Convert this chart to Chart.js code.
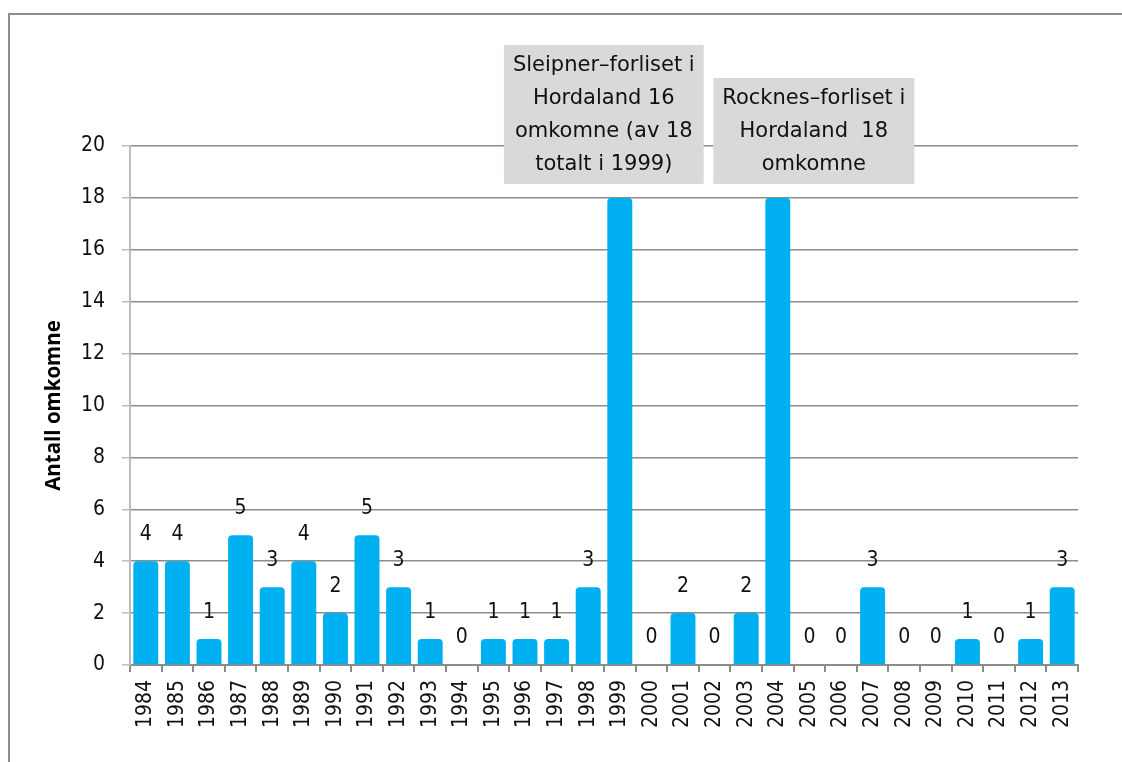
<!DOCTYPE html>
<html lang="no">
<head>
    <meta charset="UTF-8">
    <title>Antall omkomne 1984-2013</title>
    <script src="https://cdn.jsdelivr.net/npm/chart.js"></script>
    <style>
        body { margin: 0; background: #fff; overflow: hidden; }
        .frame { position: absolute; left: 8px; top: 13px; width: 1300px; height: 900px; border: 2px solid #8c8c8c; }
        .wrap { position: absolute; left: 0; top: 0; width: 1122px; height: 762px; }
    </style>
</head>
<body>
    <div class="frame"></div>
    <div class="wrap"><canvas id="chart"></canvas></div>

    <script>
        const years = ['1984', '1985', '1986', '1987', '1988', '1989', '1990', '1991', '1992', '1993',
                       '1994', '1995', '1996', '1997', '1998', '1999', '2000', '2001', '2002', '2003',
                       '2004', '2005', '2006', '2007', '2008', '2009', '2010', '2011', '2012', '2013'];
        const deaths = [4, 4, 1, 5, 3, 4, 2, 5, 3, 1,
                        0, 1, 1, 1, 3, 18, 0, 2, 0, 2,
                        18, 0, 0, 3, 0, 0, 1, 0, 1, 3];
        const yTicks = [0, 2, 4, 6, 8, 10, 12, 14, 16, 18, 20];
        const yTitle = 'Antall omkomne';

        // text boxes shown instead of a number for the two big accidents
        const notes = {
            '1999': ['Sleipner\u2013forliset i', 'Hordaland 16', 'omkomne (av 18', 'totalt i 1999)'],
            '2004': ['Rocknes\u2013forliset i', 'Hordaland  18', 'omkomne']
        };

        const FONT = "'DejaVu Sans Condensed', 'DejaVu Sans', sans-serif";
        const NOTE_FONT = "'DejaVu Sans', sans-serif";

        const barLabels = {
            id: 'barLabels',
            afterDatasetsDraw(chart) {
                const { ctx, scales: { x, y } } = chart;
                const meta = chart.getDatasetMeta(0);
                ctx.save();
                ctx.font = '21px ' + FONT;
                ctx.fillStyle = '#111';
                ctx.textAlign = 'center';
                ctx.textBaseline = 'middle';
                meta.data.forEach((bar, i) => {
                    if (notes[years[i]]) return;
                    ctx.fillText(String(deaths[i]), bar.x, y.getPixelForValue(deaths[i]) - 27);
                });

                // note boxes
                const shift = { '1999': -16, '2004': 36 };
                ctx.font = '21px ' + NOTE_FONT;
                Object.keys(notes).forEach(year => {
                    const i = years.indexOf(year);
                    const lines = notes[year];
                    const w = Math.max(...lines.map(l => ctx.measureText(l).width)) + 18;
                    const h = lines.length * 33 + 7;
                    const cx = x.getPixelForValue(i) + shift[year];
                    const bottom = y.getPixelForValue(deaths[i]) - 14;
                    const top = bottom - h;
                    ctx.fillStyle = '#d9d9d9';
                    ctx.fillRect(cx - w / 2, top, w, h);
                    ctx.fillStyle = '#111';
                    lines.forEach((l, k) => ctx.fillText(l, cx, top + 21 + k * 33));
                });
                ctx.restore();
            }
        };

        new Chart(document.getElementById('chart'), {
            type: 'bar',
            data: {
                labels: years,
                datasets: [{
                    data: deaths,
                    backgroundColor: '#00b0f0',
                    borderRadius: 4,
                    barPercentage: 0.79,
                    categoryPercentage: 1
                }]
            },
            options: {
                responsive: true,
                maintainAspectRatio: false,
                animation: false,
                layout: { padding: { top: 146, right: 44, left: 0, bottom: 0 } },
                plugins: { legend: { display: false }, tooltip: { enabled: false } },
                scales: {
                    x: {
                        afterFit(scale) { scale.height = 97; },
                        grid: { drawOnChartArea: false, offset: true, tickLength: 7, color: '#8c8c8c', lineWidth: 2 },
                        border: { color: '#8c8c8c', width: 2 },
                        ticks: {
                            autoSkip: false, minRotation: 90, maxRotation: 90, padding: 8,
                            color: '#111', font: { family: FONT, size: 21 }
                        }
                    },
                    y: {
                        min: 0,
                        max: 20,
                        afterFit(scale) { scale.width = 130; },
                        afterBuildTicks(scale) { scale.ticks = yTicks.map(v => ({ value: v })); },
                        grid: { color: '#8c8c8c', lineWidth: 1.5, tickLength: 8, tickColor: '#bdbdbd' },
                        border: { color: '#bdbdbd', width: 2 },
                        ticks: { padding: 17, color: '#111', font: { family: FONT, size: 21 } },
                        title: {
                            display: true,
                            text: yTitle,
                            color: '#000',
                            font: { family: "'Open Sans', sans-serif", size: 20.5, weight: 'bold' },
                            padding: { top: 42, bottom: 0 }
                        }
                    }
                }
            },
            plugins: [barLabels]
        });
    </script>
</body>
</html>
